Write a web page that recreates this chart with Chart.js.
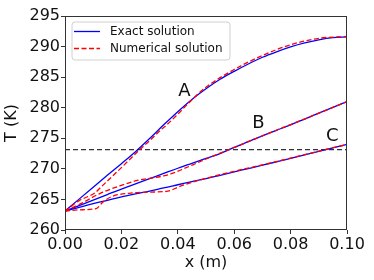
<!DOCTYPE html>
<html>
<head>
<meta charset="utf-8">
<script src="https://cdn.jsdelivr.net/npm/chart.js@4"></script>
<style>
  html, body { margin: 0; padding: 0; background: #fff; }
  #wrap { width: 374px; height: 280px; }
</style>
</head>
<body>
<div id="wrap"><canvas id="chart" width="374" height="280"></canvas></div>
<script>
// x positions (m) for the exact solutions
const xExact = [0, 0.005, 0.01, 0.015, 0.02, 0.025, 0.03, 0.035, 0.04, 0.045, 0.05,
                0.055, 0.06, 0.065, 0.07, 0.075, 0.08, 0.085, 0.09, 0.095, 0.1];
const exactA = [263.1, 265.05, 267.0, 268.95, 270.85, 272.8, 274.95, 277.2, 279.35, 281.35, 283.1,
                284.65, 285.95, 287.15, 288.25, 289.15, 289.95, 290.6, 291.1, 291.45, 291.6];
const exactB = [263.1, 264.0, 264.9, 265.8, 266.7, 267.55, 268.4, 269.25, 270.1, 270.9, 271.7,
                272.5, 273.5, 274.45, 275.4, 276.3, 277.2, 278.15, 279.1, 280.05, 281.0];
const exactC = [263.1, 263.7, 264.3, 264.85, 265.4, 265.9, 266.35, 266.9, 267.4, 267.9, 268.4,
                268.95, 269.5, 270.05, 270.6, 271.15, 271.7, 272.3, 272.85, 273.45, 274.0];

// numerical solutions
const numAx = [0, 0.005, 0.0107, 0.0125, 0.02, 0.0266, 0.03, 0.0343, 0.0361, 0.04, 0.046, 0.05, 0.06, 0.07, 0.08, 0.09, 0.1];
const numAT = [263.1, 264.8, 266.1, 266.9, 270.2, 273.2, 274.6, 276.5, 277.2, 278.95, 281.75, 283.35, 286.25, 288.55, 290.3, 291.35, 291.65];
const numBx = [0, 0.006, 0.0125, 0.02, 0.026, 0.03, 0.035, 0.038, 0.042, 0.047, 0.052, 0.06, 0.07, 0.08, 0.09, 0.1];
const numBT = [263.1, 264.4, 266.0, 267.3, 268.15, 268.45, 268.85, 269.25, 270.0, 271.0, 272.0, 273.5, 275.4, 277.25, 279.1, 281.0];
const numCx = [0, 0.005, 0.011, 0.0135, 0.0167, 0.0226, 0.03, 0.0365, 0.0405, 0.045, 0.05, 0.06, 0.07, 0.08, 0.09, 0.1];
const numCT = [263.1, 263.3, 263.5, 264.6, 265.5, 266.0, 266.2, 266.35, 267.1, 267.8, 268.45, 269.6, 270.65, 271.75, 272.9, 274.0];

const freezeT = 273.15;
const xTicks = [0, 0.02, 0.04, 0.06, 0.08, 0.1];
const yTicks = [260, 265, 270, 275, 280, 285, 290, 295];

const curveNames = ['A', 'B', 'C'];
const curveLabelX = [0.0423, 0.0686, 0.0948];
const curveLabelT = [282.6, 277.45, 275.3];

const legendNames = ['Exact solution', 'Numerical solution'];

const FONT = "'DejaVu Sans', 'Liberation Sans', sans-serif";

function pts(xs, ys) {
    return xs.map((x, i) => ({ x: x, y: ys[i] }));
}

function numDs(xs, ys) {
    return { data: pts(xs, ys), borderColor: '#ff0000', borderWidth: 1.3, borderDash: [5, 2.5], pointRadius: 0,
             cubicInterpolationMode: 'monotone', fill: false };
}

function exactDs(ys) {
    return { data: pts(xExact, ys), borderColor: '#0000ff', borderWidth: 1.3, pointRadius: 0,
             cubicInterpolationMode: 'monotone', fill: false };
}

// frame, curve labels and the legend box
const decorations = {
    id: 'decorations',
    afterDraw(chart) {
        const ctx = chart.ctx;
        const a = chart.chartArea;
        const xs = chart.scales.x, ys = chart.scales.y;
        ctx.save();
        ctx.strokeStyle = '#333';
        ctx.lineWidth = 1;
        ctx.strokeRect(Math.round(a.left) + 0.5, Math.round(a.top) + 0.5,
                       Math.round(a.right - a.left) - 1, Math.round(a.bottom - a.top) - 1);

        ctx.fillStyle = '#111';
        ctx.font = '18px ' + FONT;
        ctx.textAlign = 'center';
        ctx.textBaseline = 'middle';
        curveNames.forEach((n, i) => {
            ctx.fillText(n, xs.getPixelForValue(curveLabelX[i]), ys.getPixelForValue(curveLabelT[i]));
        });

        // legend
        const bx = a.left + 7, by = a.top + 6, bw = 158, bh = 38, r = 3;
        ctx.beginPath();
        ctx.moveTo(bx + r, by);
        ctx.arcTo(bx + bw, by, bx + bw, by + bh, r);
        ctx.arcTo(bx + bw, by + bh, bx, by + bh, r);
        ctx.arcTo(bx, by + bh, bx, by, r);
        ctx.arcTo(bx, by, bx + bw, by, r);
        ctx.closePath();
        ctx.fillStyle = 'rgba(255,255,255,0.8)';
        ctx.fill();
        ctx.strokeStyle = '#d0d0d0';
        ctx.stroke();

        const rows = [by + 9.5, by + 26.5];
        const styles = [{ c: '#0000ff', d: [] }, { c: '#ff0000', d: [5, 2.5] }];
        ctx.font = '12px ' + FONT;
        ctx.textAlign = 'left';
        rows.forEach((yy, i) => {
            ctx.beginPath();
            ctx.setLineDash(styles[i].d);
            ctx.strokeStyle = styles[i].c;
            ctx.lineWidth = 1.3;
            ctx.moveTo(bx + 2, yy);
            ctx.lineTo(bx + 28, yy);
            ctx.stroke();
            ctx.setLineDash([]);
            ctx.fillStyle = '#111';
            ctx.fillText(legendNames[i], bx + 38, yy);
        });
        ctx.restore();
    }
};

const chart = new Chart(document.getElementById('chart').getContext('2d'), {
    type: 'line',
    data: {
        datasets: [
            numDs(numAx, numAT),
            numDs(numBx, numBT),
            numDs(numCx, numCT),
            exactDs(exactA),
            exactDs(exactB),
            exactDs(exactC),
            { data: [{ x: 0, y: freezeT }, { x: 0.1, y: freezeT }], borderColor: '#333', borderWidth: 1.2,
              borderDash: [5, 3], pointRadius: 0, fill: false }
        ]
    },
    options: {
        responsive: false,
        animation: false,
        layout: { padding: { top: 16, right: 27, left: 0, bottom: 0 } },
        plugins: { legend: { display: false }, tooltip: { enabled: false } },
        scales: {
            x: {
                type: 'linear',
                min: 0,
                max: 0.1,
                afterBuildTicks(scale) { scale.ticks = xTicks.map(v => ({ value: v })); },
                afterFit(scale) { scale.height = 50; },
                ticks: { callback: v => v.toFixed(2), color: '#111', font: { family: FONT, size: 16 }, padding: 1, maxRotation: 0, autoSkip: false },
                grid: { drawOnChartArea: false, drawTicks: true, tickLength: 4, color: '#333' },
                border: { display: false },
                title: { display: true, text: 'x (m)', color: '#111', font: { family: FONT, size: 16 }, padding: { top: 0, bottom: 8 } }
            },
            y: {
                min: 260,
                max: 295,
                afterBuildTicks(scale) { scale.ticks = yTicks.map(v => ({ value: v })); },
                afterFit(scale) { scale.width = 65; },
                ticks: { callback: v => String(v), color: '#111', font: { family: FONT, size: 16 }, padding: 1, autoSkip: false },
                grid: { drawOnChartArea: false, drawTicks: true, tickLength: 4, color: '#333' },
                border: { display: false },
                title: { display: true, text: 'T (K)', color: '#111', font: { family: FONT, size: 16 }, padding: { top: 2, bottom: 0 } }
            }
        }
    },
    plugins: [decorations]
});
</script>
</body>
</html>
